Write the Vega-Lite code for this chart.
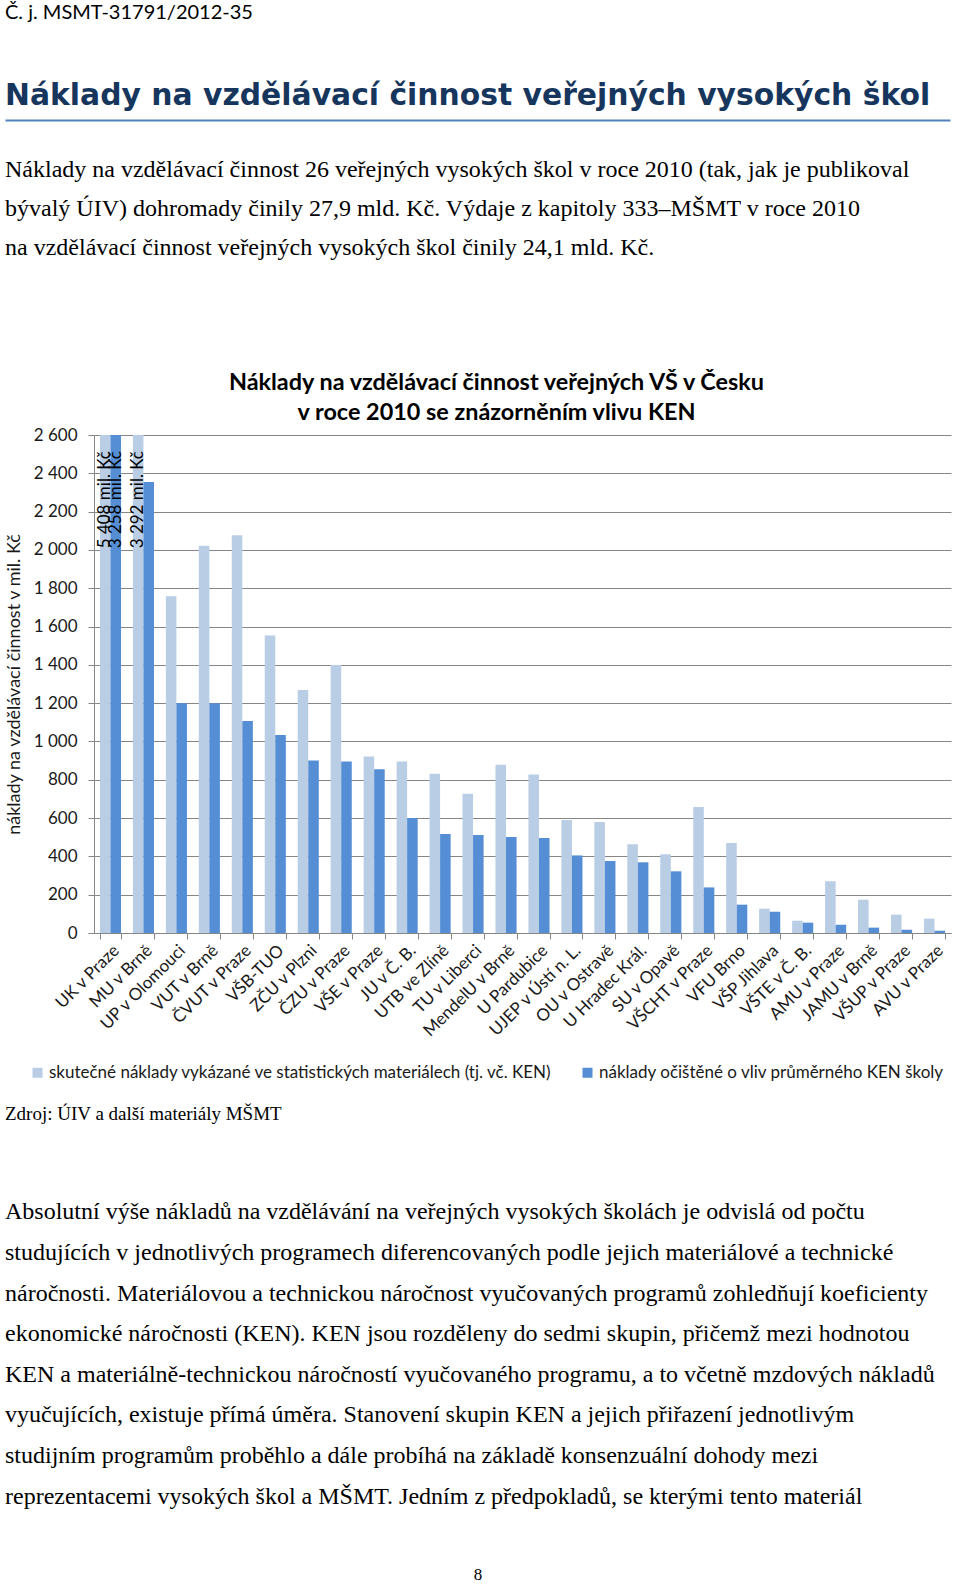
{
  "$schema": "https://vega.github.io/schema/vega-lite/v6.json",
  "padding": {"left": 5, "top": 3, "right": 0, "bottom": 0},
  "background": "white",
  "spacing": 24,
  "resolve": {"scale": {"color": "independent"}, "legend": {"color": "independent"}},
  "title": {"text": "Č. j. MSMT-31791/2012-35", "anchor": "start", "frame": "bounds", "font": "Lato", "fontSize": 20, "fontWeight": "normal", "color": "#000000", "offset": 58},
  "config": {
    "view": {"stroke": null},
    "locale": {"number": {"decimal": ",", "thousands": " ", "grouping": [3], "currency": ["", " mil. Kč"]}}
  },
  "datasets": {
    "uvod": [
      {"radek": 0, "text": "Náklady na vzdělávací činnost 26 veřejných vysokých škol v roce 2010 (tak, jak je publikoval"},
      {"radek": 1, "text": "bývalý ÚIV) dohromady činily 27,9 mld. Kč. Výdaje z kapitoly 333–MŠMT v roce 2010"},
      {"radek": 2, "text": "na vzdělávací činnost veřejných vysokých škol činily 24,1 mld. Kč."}
    ],
    "dole": [
      {"radek": 0, "text": "Absolutní výše nákladů na vzdělávání na veřejných vysokých školách je odvislá od počtu"},
      {"radek": 1, "text": "studujících v jednotlivých programech diferencovaných podle jejich materiálové a technické"},
      {"radek": 2, "text": "náročnosti. Materiálovou a technickou náročnost vyučovaných programů zohledňují koeficienty"},
      {"radek": 3, "text": "ekonomické náročnosti (KEN). KEN jsou rozděleny do sedmi skupin, přičemž mezi hodnotou"},
      {"radek": 4, "text": "KEN a materiálně-technickou náročností vyučovaného programu, a to včetně mzdových nákladů"},
      {"radek": 5, "text": "vyučujících, existuje přímá úměra. Stanovení skupin KEN a jejich přiřazení jednotlivým"},
      {"radek": 6, "text": "studijním programům proběhlo a dále probíhá na základě konsenzuální dohody mezi"},
      {"radek": 7, "text": "reprezentacemi vysokých škol a MŠMT. Jedním z předpokladů, se kterými tento materiál"}
    ],
    "naklady": [
      {"skola": "UK v Praze", "rada": "skutečné náklady vykázané ve statistických materiálech (tj. vč. KEN)", "hodnota": 5408},
      {"skola": "UK v Praze", "rada": "náklady očištěné o vliv průměrného KEN školy", "hodnota": 3258},
      {"skola": "MU v Brně", "rada": "skutečné náklady vykázané ve statistických materiálech (tj. vč. KEN)", "hodnota": 3292},
      {"skola": "MU v Brně", "rada": "náklady očištěné o vliv průměrného KEN školy", "hodnota": 2355},
      {"skola": "UP v Olomouci", "rada": "skutečné náklady vykázané ve statistických materiálech (tj. vč. KEN)", "hodnota": 1758},
      {"skola": "UP v Olomouci", "rada": "náklady očištěné o vliv průměrného KEN školy", "hodnota": 1200},
      {"skola": "VUT v Brně", "rada": "skutečné náklady vykázané ve statistických materiálech (tj. vč. KEN)", "hodnota": 2022},
      {"skola": "VUT v Brně", "rada": "náklady očištěné o vliv průměrného KEN školy", "hodnota": 1199},
      {"skola": "ČVUT v Praze", "rada": "skutečné náklady vykázané ve statistických materiálech (tj. vč. KEN)", "hodnota": 2076},
      {"skola": "ČVUT v Praze", "rada": "náklady očištěné o vliv průměrného KEN školy", "hodnota": 1107},
      {"skola": "VŠB-TUO", "rada": "skutečné náklady vykázané ve statistických materiálech (tj. vč. KEN)", "hodnota": 1553},
      {"skola": "VŠB-TUO", "rada": "náklady očištěné o vliv průměrného KEN školy", "hodnota": 1034},
      {"skola": "ZČU v Plzni", "rada": "skutečné náklady vykázané ve statistických materiálech (tj. vč. KEN)", "hodnota": 1269},
      {"skola": "ZČU v Plzni", "rada": "náklady očištěné o vliv průměrného KEN školy", "hodnota": 900},
      {"skola": "ČZU v Praze", "rada": "skutečné náklady vykázané ve statistických materiálech (tj. vč. KEN)", "hodnota": 1399},
      {"skola": "ČZU v Praze", "rada": "náklady očištěné o vliv průměrného KEN školy", "hodnota": 896},
      {"skola": "VŠE v Praze", "rada": "skutečné náklady vykázané ve statistických materiálech (tj. vč. KEN)", "hodnota": 922},
      {"skola": "VŠE v Praze", "rada": "náklady očištěné o vliv průměrného KEN školy", "hodnota": 855},
      {"skola": "JU v Č. B.", "rada": "skutečné náklady vykázané ve statistických materiálech (tj. vč. KEN)", "hodnota": 896},
      {"skola": "JU v Č. B.", "rada": "náklady očištěné o vliv průměrného KEN školy", "hodnota": 600},
      {"skola": "UTB ve Zlíně", "rada": "skutečné náklady vykázané ve statistických materiálech (tj. vč. KEN)", "hodnota": 832},
      {"skola": "UTB ve Zlíně", "rada": "náklady očištěné o vliv průměrného KEN školy", "hodnota": 517},
      {"skola": "TU v Liberci", "rada": "skutečné náklady vykázané ve statistických materiálech (tj. vč. KEN)", "hodnota": 727},
      {"skola": "TU v Liberci", "rada": "náklady očištěné o vliv průměrného KEN školy", "hodnota": 512},
      {"skola": "MendelU v Brně", "rada": "skutečné náklady vykázané ve statistických materiálech (tj. vč. KEN)", "hodnota": 879},
      {"skola": "MendelU v Brně", "rada": "náklady očištěné o vliv průměrného KEN školy", "hodnota": 501},
      {"skola": "U Pardubice", "rada": "skutečné náklady vykázané ve statistických materiálech (tj. vč. KEN)", "hodnota": 827},
      {"skola": "U Pardubice", "rada": "náklady očištěné o vliv průměrného KEN školy", "hodnota": 496},
      {"skola": "UJEP v Ústí n. L.", "rada": "skutečné náklady vykázané ve statistických materiálech (tj. vč. KEN)", "hodnota": 590},
      {"skola": "UJEP v Ústí n. L.", "rada": "náklady očištěné o vliv průměrného KEN školy", "hodnota": 405},
      {"skola": "OU v Ostravě", "rada": "skutečné náklady vykázané ve statistických materiálech (tj. vč. KEN)", "hodnota": 580},
      {"skola": "OU v Ostravě", "rada": "náklady očištěné o vliv průměrného KEN školy", "hodnota": 376},
      {"skola": "U Hradec Král.", "rada": "skutečné náklady vykázané ve statistických materiálech (tj. vč. KEN)", "hodnota": 463},
      {"skola": "U Hradec Král.", "rada": "náklady očištěné o vliv průměrného KEN školy", "hodnota": 369},
      {"skola": "SU v Opavě", "rada": "skutečné náklady vykázané ve statistických materiálech (tj. vč. KEN)", "hodnota": 411},
      {"skola": "SU v Opavě", "rada": "náklady očištěné o vliv průměrného KEN školy", "hodnota": 322},
      {"skola": "VŠCHT v Praze", "rada": "skutečné náklady vykázané ve statistických materiálech (tj. vč. KEN)", "hodnota": 658},
      {"skola": "VŠCHT v Praze", "rada": "náklady očištěné o vliv průměrného KEN školy", "hodnota": 238},
      {"skola": "VFU Brno", "rada": "skutečné náklady vykázané ve statistických materiálech (tj. vč. KEN)", "hodnota": 470},
      {"skola": "VFU Brno", "rada": "náklady očištěné o vliv průměrného KEN školy", "hodnota": 148},
      {"skola": "VŠP Jihlava", "rada": "skutečné náklady vykázané ve statistických materiálech (tj. vč. KEN)", "hodnota": 127},
      {"skola": "VŠP Jihlava", "rada": "náklady očištěné o vliv průměrného KEN školy", "hodnota": 111},
      {"skola": "VŠTE v Č. B.", "rada": "skutečné náklady vykázané ve statistických materiálech (tj. vč. KEN)", "hodnota": 64},
      {"skola": "VŠTE v Č. B.", "rada": "náklady očištěné o vliv průměrného KEN školy", "hodnota": 54},
      {"skola": "AMU v Praze", "rada": "skutečné náklady vykázané ve statistických materiálech (tj. vč. KEN)", "hodnota": 270},
      {"skola": "AMU v Praze", "rada": "náklady očištěné o vliv průměrného KEN školy", "hodnota": 43},
      {"skola": "JAMU v Brně", "rada": "skutečné náklady vykázané ve statistických materiálech (tj. vč. KEN)", "hodnota": 174},
      {"skola": "JAMU v Brně", "rada": "náklady očištěné o vliv průměrného KEN školy", "hodnota": 28},
      {"skola": "VŠUP v Praze", "rada": "skutečné náklady vykázané ve statistických materiálech (tj. vč. KEN)", "hodnota": 96},
      {"skola": "VŠUP v Praze", "rada": "náklady očištěné o vliv průměrného KEN školy", "hodnota": 17},
      {"skola": "AVU v Praze", "rada": "skutečné náklady vykázané ve statistických materiálech (tj. vč. KEN)", "hodnota": 75},
      {"skola": "AVU v Praze", "rada": "náklady očištěné o vliv průměrného KEN školy", "hodnota": 12}
    ]
  },
  "vconcat": [
    {
      "width": 856,
      "height": 196,
      "title": {"text": "Náklady na vzdělávací činnost veřejných vysokých škol", "anchor": "start", "frame": "bounds", "font": "DejaVu Sans", "fontSize": 29.8, "fontWeight": "bold", "color": "#17365d", "offset": 9},
      "data": {"name": "uvod"},
      "mark": {"type": "text", "align": "left", "baseline": "middle", "font": "Liberation Serif", "fontSize": 24, "color": "#000000"},
      "encoding": {
        "x": {"datum": 0, "type": "quantitative", "scale": {"domain": [0, 1], "range": [-89, 856], "nice": false}, "axis": {"orient": "top", "offset": 30, "domain": true, "domainColor": "#4f81bd", "domainWidth": 2, "ticks": false, "labels": false, "grid": false, "title": null}},
        "y": {"field": "radek", "type": "ordinal", "axis": null, "scale": {"type": "band", "domain": [0, 1, 2, 3, 4], "paddingInner": 0, "paddingOuter": 0}},
        "text": {"field": "text", "type": "nominal"}
      }
    },
    {
      "width": 857,
      "height": 498,
      "title": {"text": ["Náklady na vzdělávací činnost veřejných VŠ v Česku", "v roce 2010 se znázorněním vlivu KEN"], "anchor": "middle", "frame": "group", "dx": -26, "font": "Lato", "fontSize": 23.4, "fontWeight": "bold", "lineHeight": 30, "color": "#000000", "offset": 1},
      "data": {"name": "naklady"},
      "encoding": {
        "x": {"field": "skola", "type": "nominal", "sort": null, "scale": {"paddingInner": 0.36, "paddingOuter": 0.18},
          "axis": {"title": null, "labelAngle": -45, "labelAlign": "right", "labelBaseline": "top", "labelFont": "Lato", "labelFontSize": 17, "labelColor": "#1a1a1a", "labelPadding": 3, "labelLimit": 0, "tickBand": "extent", "tickSize": 6, "tickColor": "#868686", "domainColor": "#868686", "grid": false}},
        "xOffset": {"field": "rada", "type": "nominal", "sort": ["skutečné náklady vykázané ve statistických materiálech (tj. vč. KEN)", "náklady očištěné o vliv průměrného KEN školy"]},
        "y": {"field": "hodnota", "type": "quantitative", "scale": {"domain": [0, 2600], "clamp": true, "nice": false},
          "axis": {"values": [0, 200, 400, 600, 800, 1000, 1200, 1400, 1600, 1800, 2000, 2200, 2400, 2600], "format": ",d", "title": "náklady na vzdělávací činnost v mil. Kč", "titleFont": "Lato", "titleFontSize": 18, "titleFontWeight": "normal", "titleColor": "#1a1a1a", "titlePadding": 10, "labelFont": "Lato", "labelFontSize": 17, "labelColor": "#1a1a1a", "labelPadding": 11, "tickSize": 6, "tickColor": "#868686", "domainColor": "#868686", "grid": true, "gridColor": "#868686"}}
      },
      "layer": [
        {
          "mark": {"type": "bar"},
          "encoding": {
            "color": {"field": "rada", "type": "nominal",
              "scale": {"domain": ["skutečné náklady vykázané ve statistických materiálech (tj. vč. KEN)", "náklady očištěné o vliv průměrného KEN školy"], "range": ["#b9cde5", "#558ed5"]},
              "legend": {"orient": "none", "legendX": -65, "legendY": 629, "direction": "horizontal", "title": null, "symbolType": "square", "symbolSize": 100, "symbolStrokeWidth": 0, "labelFont": "Lato", "labelFontSize": 17, "labelColor": "#1a1a1a", "labelOffset": 3, "labelLimit": 0, "columnPadding": 26}}
          }
        },
        {
          "transform": [{"filter": "datum.hodnota > 2600"}],
          "mark": {"type": "text", "angle": 270, "align": "right", "baseline": "middle", "dx": -16, "font": "Lato", "fontSize": 17, "color": "#000000"},
          "encoding": {"text": {"field": "hodnota", "type": "quantitative", "format": "$,d"}}
        }
      ]
    },
    {
      "width": 856,
      "height": 325,
      "title": {"text": "Zdroj: ÚIV a další materiály MŠMT", "anchor": "start", "frame": "bounds", "font": "Liberation Serif", "fontSize": 19, "fontWeight": "normal", "color": "#000000", "offset": 68},
      "data": {"name": "dole"},
      "mark": {"type": "text", "align": "left", "baseline": "middle", "font": "Liberation Serif", "fontSize": 24, "color": "#000000"},
      "encoding": {
        "x": {"datum": 0, "type": "quantitative", "scale": {"domain": [0, 1], "range": [-89, 856], "nice": false}, "axis": {"orient": "bottom", "domain": false, "ticks": false, "labels": false, "grid": false, "title": "8", "titleFont": "Liberation Serif", "titleFontSize": 17, "titleFontWeight": "normal", "titleColor": "#000000", "titlePadding": 49}},
        "y": {"field": "radek", "type": "ordinal", "axis": null, "scale": {"type": "band", "paddingInner": 0, "paddingOuter": 0}},
        "text": {"field": "text", "type": "nominal"}
      }
    }
  ]
}
